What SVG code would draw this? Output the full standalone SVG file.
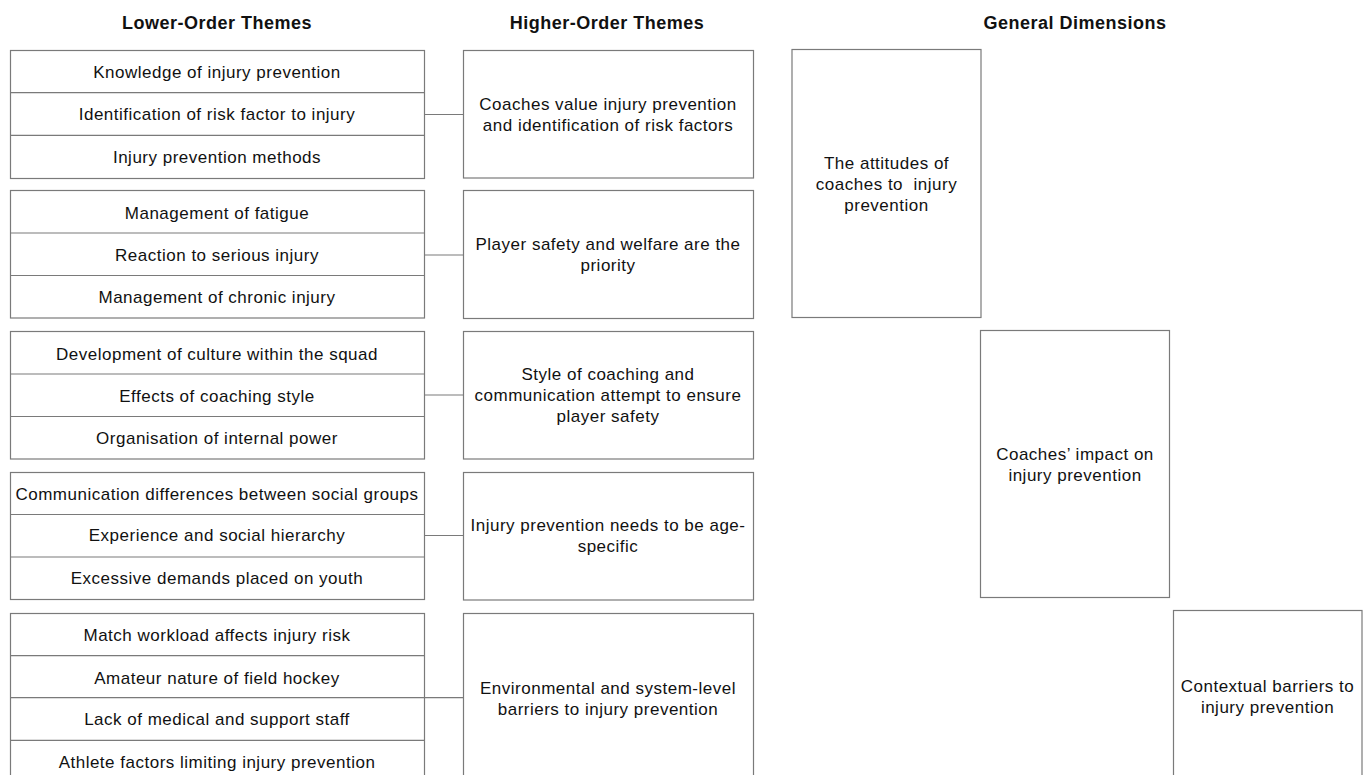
<svg xmlns="http://www.w3.org/2000/svg" width="1367" height="775" viewBox="0 0 1367 775">
<style>
.b{fill:#fff;stroke:#7a7a7a;stroke-width:1.2}
.d{stroke:#7a7a7a;stroke-width:1.2;fill:none}
text{font-family:"Liberation Sans",Arial,sans-serif;font-size:17px;letter-spacing:0.5px;fill:#111;text-anchor:middle}
.h{font-weight:bold;font-size:18px;letter-spacing:0.5px}
</style>
<rect width="1367" height="775" fill="#fff"/>
<g id="headers">
<text class="h" x="217" y="29">Lower-Order Themes</text>
<text class="h" x="607" y="29">Higher-Order Themes</text>
<text class="h" x="1075" y="29">General Dimensions</text>
</g>
<g id="connectors">
<line class="d" x1="425" y1="114.5" x2="463.5" y2="114.5"/>
<line class="d" x1="425" y1="255" x2="463.5" y2="255"/>
<line class="d" x1="425" y1="395" x2="463.5" y2="395"/>
<line class="d" x1="425" y1="535.5" x2="463.5" y2="535.5"/>
<line class="d" x1="425" y1="697.7" x2="463.5" y2="697.7"/>
</g>
<g id="lower1">
<rect class="b" x="10.5" y="50.5" width="414" height="128"/>
<line class="d" x1="10.5" y1="92.7" x2="424.5" y2="92.7"/>
<line class="d" x1="10.5" y1="135.3" x2="424.5" y2="135.3"/>
<text x="217" y="78">Knowledge of injury prevention</text>
<text x="217" y="120">Identification of risk factor to injury</text>
<text x="217" y="163">Injury prevention methods</text>
</g>
<g id="lower2">
<rect class="b" x="10.5" y="190.5" width="414" height="127.5"/>
<line class="d" x1="10.5" y1="233" x2="424.5" y2="233"/>
<line class="d" x1="10.5" y1="275.5" x2="424.5" y2="275.5"/>
<text x="217" y="219">Management of fatigue</text>
<text x="217" y="261">Reaction to serious injury</text>
<text x="217" y="303">Management of chronic injury</text>
</g>
<g id="lower3">
<rect class="b" x="10.5" y="331.5" width="414" height="127.5"/>
<line class="d" x1="10.5" y1="374" x2="424.5" y2="374"/>
<line class="d" x1="10.5" y1="416.5" x2="424.5" y2="416.5"/>
<text x="217" y="360">Development of culture within the squad</text>
<text x="217" y="402">Effects of coaching style</text>
<text x="217" y="444">Organisation of internal power</text>
</g>
<g id="lower4">
<rect class="b" x="10.5" y="472.5" width="414" height="127"/>
<line class="d" x1="10.5" y1="514.5" x2="424.5" y2="514.5"/>
<line class="d" x1="10.5" y1="557" x2="424.5" y2="557"/>
<text x="217" y="500">Communication differences between social groups</text>
<text x="217" y="541">Experience and social hierarchy</text>
<text x="217" y="584">Excessive demands placed on youth</text>
</g>
<g id="lower5">
<rect class="b" x="10.5" y="613.5" width="414" height="175"/>
<line class="d" x1="10.5" y1="655.7" x2="424.5" y2="655.7"/>
<line class="d" x1="10.5" y1="697.7" x2="424.5" y2="697.7"/>
<line class="d" x1="10.5" y1="740.3" x2="424.5" y2="740.3"/>
<text x="217" y="641">Match workload affects injury risk</text>
<text x="217" y="684">Amateur nature of field hockey</text>
<text x="217" y="725">Lack of medical and support staff</text>
<text x="217" y="768">Athlete factors limiting injury prevention</text>
</g>
<g id="higher1">
<rect class="b" x="463.5" y="50.5" width="290" height="127.5"/>
<text x="608" y="110">Coaches value injury prevention</text>
<text x="608" y="131">and identification of risk factors</text>
</g>
<g id="higher2">
<rect class="b" x="463.5" y="190.5" width="290" height="128"/>
<text x="608" y="250">Player safety and welfare are the</text>
<text x="608" y="271">priority</text>
</g>
<g id="higher3">
<rect class="b" x="463.5" y="331.5" width="290" height="127.5"/>
<text x="608" y="380">Style of coaching and</text>
<text x="608" y="401">communication attempt to ensure</text>
<text x="608" y="422">player safety</text>
</g>
<g id="higher4">
<rect class="b" x="463.5" y="472.5" width="290" height="127.5"/>
<text x="608" y="531">Injury prevention needs to be age-</text>
<text x="608" y="552">specific</text>
</g>
<g id="higher5">
<rect class="b" x="463.5" y="613.5" width="290" height="175"/>
<text x="608" y="694">Environmental and system-level</text>
<text x="608" y="715">barriers to injury prevention</text>
</g>
<g id="general1">
<rect class="b" x="792" y="49.5" width="189" height="268"/>
<text x="886.5" y="169">The attitudes of</text>
<text x="886.5" y="190">coaches to&#160; injury</text>
<text x="886.5" y="211">prevention</text>
</g>
<g id="general2">
<rect class="b" x="980.5" y="330.5" width="189" height="267"/>
<text x="1075" y="460">Coaches’ impact on</text>
<text x="1075" y="481">injury prevention</text>
</g>
<g id="general3">
<rect class="b" x="1173.5" y="610.5" width="188.5" height="180"/>
<text x="1267.5" y="692">Contextual barriers to</text>
<text x="1267.5" y="713">injury prevention</text>
</g>
</svg>
